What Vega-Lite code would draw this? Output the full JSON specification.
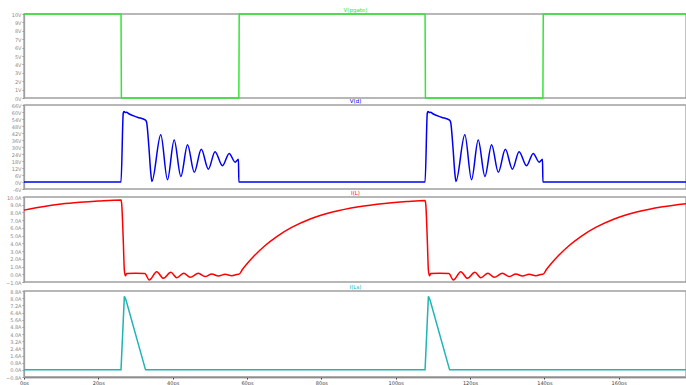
{
  "$schema": "https://vega.github.io/schema/vega-lite/v6.json",
  "width": 662,
  "height": 363,
  "autosize": {"type": "none"},
  "padding": {"left": 24, "top": 14, "right": 0, "bottom": 8},
  "background": "white",
  "config": {
    "view": {"stroke": null},
    "axis": {
      "grid": false,
      "labelFont": "DejaVu Sans",
      "labelFontSize": 5,
      "labelColor": "#8a8a8a",
      "labelPadding": 1,
      "labelFlush": false,
      "labelOverlap": false,
      "tickColor": "#8a8a8a",
      "tickSize": 2,
      "domainColor": "#a0a0a0",
      "domainWidth": 1.3,
      "titleFont": "DejaVu Sans",
      "titleFontSize": 5.5,
      "titleFontWeight": "normal",
      "titleAngle": 0,
      "titleAlign": "center",
      "titleBaseline": "bottom",
      "titlePadding": 0
    },
    "axisX": {
      "domainColor": "#505050",
      "tickColor": "#404040",
      "labelColor": "#404040",
      "labelBaseline": "top"
    }
  },
  "datasets": {
    "pgate": [
      {"t": 0, "v": 10}, {"t": 26.1, "v": 10}, {"t": 26.2, "v": 0}, {"t": 57.8, "v": 0},
      {"t": 57.9, "v": 10}, {"t": 107.9, "v": 10}, {"t": 108, "v": 0}, {"t": 139.6, "v": 0},
      {"t": 139.7, "v": 10}, {"t": 178.1, "v": 10}
    ],
    "vd": [
      {"t": 0, "v": 0}, {"t": 26.1, "v": 0}, {"t": 26.7, "v": 59}, {"t": 26.9, "v": 60.5},
      {"t": 27.3, "v": 59.5}, {"t": 27.6, "v": 59.8}, {"t": 28.2, "v": 58.5}, {"t": 30.5, "v": 55.5},
      {"t": 32.7, "v": 53}, {"t": 33.0, "v": 51}, {"t": 33.6, "v": 30}, {"t": 34.1, "v": 8},
      {"t": 34.4, "v": 0.5}, {"t": 36.8, "v": 40.4}, {"t": 38.6, "v": 2}, {"t": 40.4, "v": 36},
      {"t": 42.2, "v": 4.8}, {"t": 44.0, "v": 32}, {"t": 45.8, "v": 8.3}, {"t": 47.7, "v": 28},
      {"t": 49.6, "v": 11}, {"t": 51.4, "v": 26}, {"t": 53.4, "v": 14}, {"t": 55.2, "v": 24.5},
      {"t": 56.8, "v": 17}, {"t": 57.7, "v": 19.5}, {"t": 57.8, "v": 0},
      {"t": 107.9, "v": 0}, {"t": 108.5, "v": 59}, {"t": 108.7, "v": 60.5},
      {"t": 109.1, "v": 59.5}, {"t": 109.4, "v": 59.8}, {"t": 110.0, "v": 58.5}, {"t": 112.3, "v": 55.5},
      {"t": 114.5, "v": 53}, {"t": 114.8, "v": 51}, {"t": 115.4, "v": 30}, {"t": 115.9, "v": 8},
      {"t": 116.2, "v": 0.5}, {"t": 118.6, "v": 40.4}, {"t": 120.4, "v": 2}, {"t": 122.2, "v": 36},
      {"t": 124.0, "v": 4.8}, {"t": 125.8, "v": 32}, {"t": 127.6, "v": 8.3}, {"t": 129.5, "v": 28},
      {"t": 131.4, "v": 11}, {"t": 133.2, "v": 26}, {"t": 135.2, "v": 14}, {"t": 137.0, "v": 24.5},
      {"t": 138.6, "v": 17}, {"t": 139.5, "v": 19.5}, {"t": 139.6, "v": 0}, {"t": 178.1, "v": 0}
    ],
    "il": [
      {"t": 0, "v": 8.3}, {"t": 5, "v": 8.75}, {"t": 10, "v": 9.08}, {"t": 15, "v": 9.31},
      {"t": 20, "v": 9.48}, {"t": 26.1, "v": 9.62}, {"t": 26.3, "v": 9.0}, {"t": 26.7, "v": 4.5},
      {"t": 27.0, "v": 0.5}, {"t": 27.3, "v": -0.2}, {"t": 27.6, "v": 0.1}, {"t": 30, "v": 0.13},
      {"t": 32.5, "v": 0.1}, {"t": 33.7, "v": -0.74}, {"t": 35.7, "v": 0.34}, {"t": 37.5, "v": -0.52},
      {"t": 39.5, "v": 0.26}, {"t": 41.1, "v": -0.44}, {"t": 43.0, "v": 0.13}, {"t": 44.7, "v": -0.39},
      {"t": 46.9, "v": 0.13}, {"t": 48.7, "v": -0.3}, {"t": 50.5, "v": 0.04}, {"t": 52.3, "v": -0.22},
      {"t": 54.1, "v": 0.0}, {"t": 55.9, "v": -0.18}, {"t": 57.6, "v": 0.0}, {"t": 57.8, "v": 0.0},
      {"t": 58.8, "v": 0.64}, {"t": 60, "v": 1.35}, {"t": 62, "v": 2.42}, {"t": 64.8, "v": 3.69},
      {"t": 68, "v": 4.88}, {"t": 72, "v": 6.06}, {"t": 77, "v": 7.15}, {"t": 83, "v": 8.05},
      {"t": 90, "v": 8.74}, {"t": 97, "v": 9.17}, {"t": 103, "v": 9.41}, {"t": 107.9, "v": 9.55},
      {"t": 108.1, "v": 9.0}, {"t": 108.5, "v": 4.5}, {"t": 108.8, "v": 0.5}, {"t": 109.1, "v": -0.2},
      {"t": 109.4, "v": 0.1}, {"t": 111.8, "v": 0.13}, {"t": 114.3, "v": 0.1}, {"t": 115.5, "v": -0.74},
      {"t": 117.5, "v": 0.34}, {"t": 119.3, "v": -0.52}, {"t": 121.3, "v": 0.26}, {"t": 122.9, "v": -0.44},
      {"t": 124.8, "v": 0.13}, {"t": 126.5, "v": -0.39}, {"t": 128.7, "v": 0.13}, {"t": 130.5, "v": -0.3},
      {"t": 132.3, "v": 0.04}, {"t": 134.1, "v": -0.22}, {"t": 135.9, "v": 0.0}, {"t": 137.7, "v": -0.18},
      {"t": 139.4, "v": 0.0}, {"t": 139.6, "v": 0.0}, {"t": 140.6, "v": 0.64}, {"t": 141.8, "v": 1.35},
      {"t": 143.8, "v": 2.42}, {"t": 146.6, "v": 3.69}, {"t": 149.8, "v": 4.88}, {"t": 153.8, "v": 6.06},
      {"t": 158.8, "v": 7.15}, {"t": 164.8, "v": 8.05}, {"t": 171.8, "v": 8.74}, {"t": 178.1, "v": 9.14}
    ],
    "ils": [
      {"t": 0, "v": 0}, {"t": 26.1, "v": 0}, {"t": 27.0, "v": 8.2}, {"t": 27.4, "v": 7.85},
      {"t": 32.7, "v": 0}, {"t": 107.9, "v": 0}, {"t": 108.8, "v": 8.2}, {"t": 109.2, "v": 7.85},
      {"t": 114.5, "v": 0}, {"t": 178.1, "v": 0}
    ],
    "frame": [{}]
  },
  "layer": [
    {
      "data": {"name": "frame"},
      "mark": {"type": "rect", "fill": null, "stroke": "#a0a0a0", "strokeWidth": 1.3},
      "encoding": {
        "x": {"datum": 0, "type": "quantitative", "scale": {"domain": [0, 178.1], "nice": false, "zero": false}, "axis": {"orient": "bottom", "values": [0, 20, 40, 60, 80, 100, 120, 140, 160], "labelExpr": "datum.value + 'ps'", "title": null}},
        "x2": {"datum": 178.1},
        "y": {"datum": 0, "type": "quantitative", "scale": {"domain": [0, 10], "range": [84, 0], "nice": false, "zero": false}, "axis": null},
        "y2": {"datum": 10}
      }
    },
    {
      "data": {"name": "pgate"},
      "mark": {"type": "line", "color": "#33e633", "strokeWidth": 1.5},
      "encoding": {
        "x": {"field": "t", "type": "quantitative", "scale": {"domain": [0, 178.1], "nice": false, "zero": false}, "axis": {"orient": "bottom", "values": [0, 20, 40, 60, 80, 100, 120, 140, 160], "labelExpr": "datum.value + 'ps'", "title": null}},
        "y": {
          "field": "v", "type": "quantitative",
          "scale": {"domain": [0, 10], "range": [84, 0], "nice": false, "zero": false},
          "axis": {
            "orient": "left",
            "values": [0, 1, 2, 3, 4, 5, 6, 7, 8, 9, 10],
            "labelExpr": "datum.value + 'V'",
            "title": "V(pgate)",
            "titleColor": "#33e633",
            "titleX": 331,
            "titleY": -1.5
          }
        }
      }
    },
    {
      "data": {"name": "frame"},
      "mark": {"type": "rect", "fill": null, "stroke": "#a0a0a0", "strokeWidth": 1.3},
      "encoding": {
        "x": {"datum": 0, "type": "quantitative", "scale": {"domain": [0, 178.1], "nice": false, "zero": false}, "axis": {"orient": "bottom", "values": [0, 20, 40, 60, 80, 100, 120, 140, 160], "labelExpr": "datum.value + 'ps'", "title": null}},
        "x2": {"datum": 178.1},
        "y": {"datum": -6, "type": "quantitative", "scale": {"domain": [-6, 66], "range": [175, 91], "nice": false, "zero": false}, "axis": null},
        "y2": {"datum": 66}
      }
    },
    {
      "data": {"name": "vd"},
      "mark": {"type": "line", "color": "#0000f0", "strokeWidth": 1.5, "interpolate": "monotone"},
      "encoding": {
        "x": {"field": "t", "type": "quantitative", "scale": {"domain": [0, 178.1], "nice": false, "zero": false}, "axis": {"orient": "bottom", "values": [0, 20, 40, 60, 80, 100, 120, 140, 160], "labelExpr": "datum.value + 'ps'", "title": null}},
        "y": {
          "field": "v", "type": "quantitative",
          "scale": {"domain": [-6, 66], "range": [175, 91], "nice": false, "zero": false},
          "axis": {
            "orient": "left",
            "values": [-6, 0, 6, 12, 18, 24, 30, 36, 42, 48, 54, 60, 66],
            "labelExpr": "datum.value + 'V'",
            "title": "V(d)",
            "titleColor": "#0000f0",
            "titleX": 331,
            "titleY": 89.5
          }
        }
      }
    },
    {
      "data": {"name": "frame"},
      "mark": {"type": "rect", "fill": null, "stroke": "#a0a0a0", "strokeWidth": 1.3},
      "encoding": {
        "x": {"datum": 0, "type": "quantitative", "scale": {"domain": [0, 178.1], "nice": false, "zero": false}, "axis": {"orient": "bottom", "values": [0, 20, 40, 60, 80, 100, 120, 140, 160], "labelExpr": "datum.value + 'ps'", "title": null}},
        "x2": {"datum": 178.1},
        "y": {"datum": -1, "type": "quantitative", "scale": {"domain": [-1, 10], "range": [268, 183], "nice": false, "zero": false}, "axis": null},
        "y2": {"datum": 10}
      }
    },
    {
      "data": {"name": "il"},
      "mark": {"type": "line", "color": "#ff0000", "strokeWidth": 1.5, "interpolate": "monotone"},
      "encoding": {
        "x": {"field": "t", "type": "quantitative", "scale": {"domain": [0, 178.1], "nice": false, "zero": false}, "axis": {"orient": "bottom", "values": [0, 20, 40, 60, 80, 100, 120, 140, 160], "labelExpr": "datum.value + 'ps'", "title": null}},
        "y": {
          "field": "v", "type": "quantitative",
          "scale": {"domain": [-1, 10], "range": [268, 183], "nice": false, "zero": false},
          "axis": {
            "orient": "left",
            "values": [-1, 0, 1, 2, 3, 4, 5, 6, 7, 8, 9, 10],
            "labelExpr": "format(datum.value, '.1f') + 'A'",
            "title": "I(L)",
            "titleColor": "#ff0000",
            "titleX": 331,
            "titleY": 181.5
          }
        }
      }
    },
    {
      "data": {"name": "frame"},
      "mark": {"type": "rect", "fill": null, "stroke": "#a0a0a0", "strokeWidth": 1.3},
      "encoding": {
        "x": {"datum": 0, "type": "quantitative", "scale": {"domain": [0, 178.1], "nice": false, "zero": false}, "axis": {"orient": "bottom", "values": [0, 20, 40, 60, 80, 100, 120, 140, 160], "labelExpr": "datum.value + 'ps'", "title": null}},
        "x2": {"datum": 178.1},
        "y": {"datum": -0.8, "type": "quantitative", "scale": {"domain": [-0.8, 8.8], "range": [363, 277], "nice": false, "zero": false}, "axis": null},
        "y2": {"datum": 8.8}
      }
    },
    {
      "data": {"name": "ils"},
      "mark": {"type": "line", "color": "#20b4b4", "strokeWidth": 1.5},
      "encoding": {
        "x": {"field": "t", "type": "quantitative", "scale": {"domain": [0, 178.1], "nice": false, "zero": false}, "axis": {"orient": "bottom", "values": [0, 20, 40, 60, 80, 100, 120, 140, 160], "labelExpr": "datum.value + 'ps'", "title": null}},
        "y": {
          "field": "v", "type": "quantitative",
          "scale": {"domain": [-0.8, 8.8], "range": [363, 277], "nice": false, "zero": false},
          "axis": {
            "orient": "left",
            "values": [-0.8, 0, 0.8, 1.6, 2.4, 3.2, 4, 4.8, 5.6, 6.4, 7.2, 8, 8.8],
            "labelExpr": "format(datum.value, '.1f') + 'A'",
            "title": "I(Ls)",
            "titleColor": "#20b4b4",
            "titleX": 331,
            "titleY": 275.5
          }
        }
      }
    }
  ],
  "resolve": {"scale": {"y": "independent"}, "axis": {"y": "independent"}}
}
